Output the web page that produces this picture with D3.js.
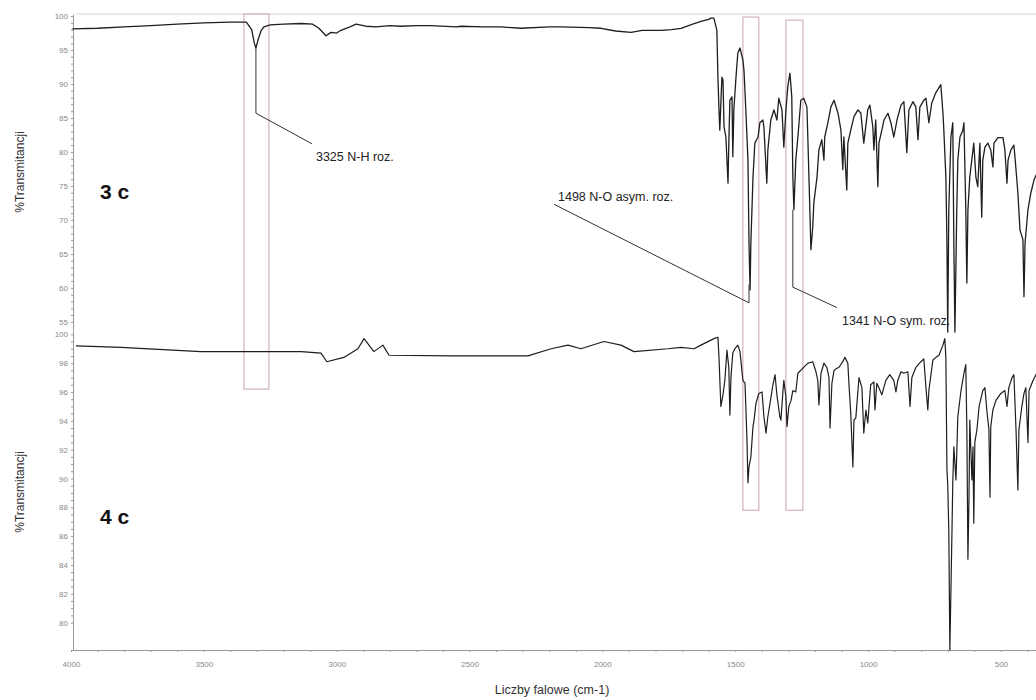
<!DOCTYPE html>
<html>
<head>
<meta charset="utf-8">
<script src="https://cdn.jsdelivr.net/npm/d3@7"></script>
<style>
  body { margin: 0; background: #fff; }
  svg { display: block; font-family: "Liberation Sans", Arial, sans-serif; }
  .tick text { fill: #888; font-size: 8px; }
  .axis path, .axis line { stroke: #999; }
</style>
</head>
<body>
<svg id="chart"></svg>
<script>
// IR spectra: [wavenumber cm-1, %T]
const spectrum3c = [
  [3995, 98.1], [3900, 98.2], [3800, 98.4], [3700, 98.6], [3600, 98.8], [3500, 99.0], [3400, 99.1],
  [3340, 99.1], [3320, 98.0], [3310, 96.0], [3304, 95.3], [3296, 96.5], [3285, 97.8], [3274, 98.4],
  [3250, 98.7], [3200, 98.8], [3134, 98.9], [3090, 98.8], [3067, 98.2], [3040, 97.1], [3021, 97.6],
  [3000, 97.5], [2984, 97.9], [2950, 98.4], [2927, 98.8], [2890, 98.5], [2852, 98.4], [2800, 98.6],
  [2758, 98.5], [2700, 98.6], [2645, 98.6], [2550, 98.4], [2532, 98.5], [2450, 98.4], [2382, 98.4],
  [2306, 98.2], [2200, 98.4], [2156, 98.4], [2050, 98.3], [2005, 98.2], [1950, 97.8], [1892, 97.6],
  [1850, 97.9], [1779, 97.9], [1740, 98.0], [1704, 98.2], [1660, 98.8], [1629, 99.2], [1600, 99.5],
  [1591, 99.7], [1580, 99.7], [1569, 97.9], [1565, 91.0], [1561, 86.2], [1558, 83.2], [1550, 91.0],
  [1546, 90.6], [1542, 83.7], [1535, 82.2], [1527, 75.4], [1524, 81.3], [1520, 87.6], [1512, 88.1],
  [1509, 79.3], [1505, 86.2], [1497, 91.0], [1490, 94.6], [1482, 95.3], [1471, 93.5], [1467, 92.1],
  [1460, 86.2], [1452, 78.8], [1448, 66.6], [1444, 59.7], [1441, 66.6], [1433, 76.3], [1426, 81.3],
  [1414, 82.2], [1407, 84.3], [1396, 84.7], [1392, 83.7], [1381, 75.4], [1377, 80.3], [1366, 84.7],
  [1354, 86.2], [1343, 84.7], [1336, 87.9], [1324, 86.2], [1317, 80.7], [1309, 86.2], [1302, 89.6],
  [1294, 91.6], [1287, 88.1], [1283, 76.3], [1279, 71.5], [1272, 78.8], [1264, 82.2], [1253, 87.6],
  [1242, 87.9], [1230, 86.6], [1226, 81.3], [1219, 71.5], [1215, 65.6], [1208, 69.0], [1204, 72.5],
  [1192, 76.3], [1185, 80.3], [1174, 81.8], [1166, 78.8], [1163, 82.2], [1151, 84.3], [1140, 86.6],
  [1128, 87.6], [1113, 85.7], [1102, 83.2], [1095, 77.4], [1091, 82.2], [1080, 74.4], [1076, 81.3],
  [1065, 83.2], [1053, 85.2], [1038, 86.2], [1027, 85.7], [1016, 81.3], [1001, 86.2], [993, 86.9],
  [982, 83.7], [978, 80.3], [971, 84.7], [963, 74.9], [959, 81.3], [948, 83.2], [940, 84.7],
  [925, 85.7], [914, 84.3], [903, 82.2], [891, 84.7], [876, 86.9], [865, 87.4], [854, 79.9],
  [846, 86.2], [831, 87.4], [820, 86.6], [812, 81.8], [805, 86.6], [790, 87.6], [782, 87.9],
  [771, 84.3], [760, 87.2], [745, 88.7], [726, 89.9], [718, 85.7], [715, 83.5], [707, 76.3],
  [703, 66.6], [700, 53.5], [696, 71.5], [688, 82.2], [681, 84.3], [677, 66.6], [673, 53.5],
  [666, 71.5], [662, 78.8], [654, 82.2], [643, 83.2], [639, 84.3], [632, 71.5], [628, 60.7],
  [624, 71.5], [617, 76.3], [605, 80.3], [602, 81.3], [594, 76.3], [587, 74.9], [579, 81.3],
  [572, 70.4], [568, 78.8], [560, 80.7], [549, 81.3], [538, 80.3], [530, 77.8], [526, 81.3],
  [511, 82.1], [492, 82.1], [485, 80.3], [477, 75.4], [473, 78.8], [462, 80.3], [451, 81.0],
  [447, 79.3], [436, 74.0], [428, 68.5], [417, 67.1], [413, 58.7], [409, 66.6], [398, 71.5],
  [387, 74.0], [375, 75.9], [364, 76.9]
];

const spectrum4c = [
  [3981, 99.2], [3812, 99.1], [3511, 98.8], [3360, 98.8], [3134, 98.8], [3059, 98.7], [3037, 98.1],
  [2973, 98.4], [2920, 99.0], [2897, 99.7], [2860, 98.8], [2826, 99.25], [2803, 98.55], [2570, 98.5],
  [2280, 98.5], [2193, 99.0], [2129, 99.25], [2081, 99.0], [1994, 99.5], [1930, 99.25], [1881, 98.8],
  [1753, 99.0], [1704, 99.1], [1655, 99.0], [1629, 99.25], [1580, 99.7], [1565, 99.8], [1561, 98.4],
  [1554, 95.0], [1546, 95.8], [1539, 96.8], [1531, 98.9], [1524, 97.7], [1520, 94.4], [1516, 97.0],
  [1509, 98.7], [1501, 99.0], [1490, 99.25], [1482, 98.8], [1471, 96.8], [1463, 96.6], [1456, 92.9],
  [1452, 89.7], [1448, 90.8], [1441, 91.5], [1433, 93.6], [1429, 94.05], [1422, 95.2], [1411, 95.9],
  [1399, 96.0], [1392, 94.3], [1384, 93.15], [1377, 94.3], [1369, 95.2], [1358, 96.5], [1350, 97.2],
  [1343, 95.8], [1332, 94.3], [1328, 94.05], [1320, 96.1], [1317, 96.8], [1309, 95.65], [1305, 93.6],
  [1298, 95.0], [1290, 95.4], [1283, 96.1], [1272, 96.0], [1264, 97.3], [1245, 97.65], [1226, 98.0],
  [1208, 98.1], [1196, 97.4], [1189, 96.8], [1185, 95.1], [1177, 97.3], [1166, 98.0], [1155, 97.7],
  [1147, 97.0], [1143, 93.5], [1136, 96.6], [1128, 97.5], [1117, 97.65], [1110, 97.7], [1095, 98.1],
  [1087, 98.4], [1076, 98.0], [1072, 96.6], [1065, 94.5], [1057, 90.8], [1053, 94.05], [1046, 94.2],
  [1034, 97.0], [1023, 96.3], [1016, 93.15], [1008, 94.75], [1001, 93.85], [990, 96.5], [978, 96.7],
  [974, 94.75], [967, 96.6], [959, 96.3], [948, 95.8], [933, 96.8], [918, 97.2], [903, 96.8],
  [895, 96.0], [888, 96.8], [876, 97.4], [865, 97.3], [850, 97.4], [842, 95.0], [835, 97.0],
  [820, 97.7], [801, 98.1], [790, 98.3], [782, 96.3], [775, 94.75], [771, 96.1], [756, 98.2],
  [745, 98.4], [733, 98.55], [718, 99.25], [711, 99.7], [707, 98.4], [703, 90.6], [700, 89.55],
  [696, 86.4], [692, 78.1], [684, 86.4], [681, 89.7], [677, 92.2], [669, 89.9], [662, 94.3],
  [650, 96.1], [639, 97.3], [632, 97.9], [628, 93.4], [624, 84.4], [620, 88.7], [617, 94.05],
  [609, 89.9], [605, 92.2], [602, 86.9], [598, 92.5], [590, 93.4], [582, 95.0], [568, 96.1],
  [560, 96.3], [553, 94.75], [545, 93.4], [541, 88.7], [538, 93.6], [530, 94.75], [519, 95.4],
  [500, 95.9], [485, 96.1], [477, 95.0], [470, 96.3], [458, 97.0], [451, 97.2], [443, 93.4],
  [436, 89.2], [432, 93.4], [421, 95.0], [413, 95.9], [406, 96.3], [398, 92.5], [394, 96.1],
  [379, 96.8], [368, 97.2], [364, 97.3]
];

// Tick values
const xTicks = d3.range(4000, 399, -100);
const xLabels = [4000, 3500, 3000, 2500, 2000, 1500, 1000, 500];
const yTicksTop = d3.range(55, 101, 1);
const yTicksBottom = d3.range(80, 100.1, 0.5);

// Peak labels: text position, leader line points (top panel units)
const peakLabels = [
  { text: '3325 N-H roz.', at: [3078, 78.6], path: [[3304, 95.3], [3304, 85.7], [3093, 81.2]] },
  { text: '1498 N-O asym. roz.', at: [2167, 72.8], path: [[2182, 72.3], [1448, 57.8], [1448, 60.5]] },
  { text: '1341 N-O sym. roz.', at: [1098, 54.5], path: [[1283, 71.5], [1283, 60.1], [1117, 57.1]] }
];

// Highlight boxes: wavenumber range, top (top panel %T), bottom (bottom panel %T)
const boxes = [
  { from: 3349, to: 3255, top: 100.3, bottom: 96.2 },
  { from: 1471, to: 1411, top: 99.85, bottom: 87.8 },
  { from: 1309, to: 1245, top: 99.4, bottom: 87.8 }
];

const width = 1036;
const height = 700;

const svg = d3.select('#chart')
    .attr('width', width)
    .attr('height', height);

const x = d3.scaleLinear().domain([4000, 364]).range([71, 1037]);
const yTop = d3.scaleLinear().domain([100.3, 53.8]).range([14, 330]);
const yBottom = d3.scaleLinear().domain([100.3, 78.1]).range([330, 650]);

// faint frame line at the top
svg.append('line')
    .attr('x1', 77).attr('x2', width)
    .attr('y1', 14).attr('y2', 14)
    .attr('stroke', '#d4d4d4');

// highlight boxes behind the traces
svg.selectAll('.box')
    .data(boxes)
    .enter()
    .append('rect')
    .attr('class', 'box')
    .attr('x', d => x(d.from))
    .attr('y', d => yTop(d.top))
    .attr('width', d => x(d.to) - x(d.from))
    .attr('height', d => yBottom(d.bottom) - yTop(d.top))
    .attr('fill', 'none')
    .attr('stroke', '#c9a3ab')
    .attr('stroke-width', 1);

// axes
svg.append('g')
    .attr('class', 'axis')
    .attr('transform', 'translate(0,650)')
    .call(d3.axisBottom(x)
        .tickValues(xTicks)
        .tickSize(2)
        .tickSizeOuter(0)
        .tickPadding(9)
        .tickFormat(d => xLabels.includes(d) ? d : ''));

svg.append('g')
    .attr('class', 'axis')
    .attr('transform', 'translate(73,0)')
    .call(d3.axisLeft(yTop)
        .tickValues(yTicksTop)
        .tickSize(2)
        .tickSizeOuter(0)
        .tickPadding(3)
        .tickFormat(d => d % 5 === 0 ? d : ''));

svg.append('g')
    .attr('class', 'axis')
    .attr('transform', 'translate(73,0)')
    .call(d3.axisLeft(yBottom)
        .tickValues(yTicksBottom)
        .tickSize(2)
        .tickSizeOuter(0)
        .tickPadding(3)
        .tickFormat(d => d % 2 === 0 ? d : ''));

svg.selectAll('.axis .tick line').attr('stroke', '#555');

// spectra
const lineTop = d3.line().x(d => x(d[0])).y(d => yTop(d[1]));
const lineBottom = d3.line().x(d => x(d[0])).y(d => yBottom(d[1]));

svg.append('path')
    .datum(spectrum3c)
    .attr('d', lineTop)
    .attr('fill', 'none')
    .attr('stroke', '#1e1e1e')
    .attr('stroke-width', 1.3)
    .attr('stroke-linejoin', 'round');

svg.append('path')
    .datum(spectrum4c)
    .attr('d', lineBottom)
    .attr('fill', 'none')
    .attr('stroke', '#1e1e1e')
    .attr('stroke-width', 1.2)
    .attr('stroke-linejoin', 'round');

// peak labels with leader lines
const leader = d3.line().x(d => x(d[0])).y(d => yTop(d[1]));
svg.selectAll('.leader')
    .data(peakLabels)
    .enter()
    .append('path')
    .attr('class', 'leader')
    .attr('d', d => leader(d.path))
    .attr('fill', 'none')
    .attr('stroke', '#333')
    .attr('stroke-width', 1);

svg.selectAll('.peak-label')
    .data(peakLabels)
    .enter()
    .append('text')
    .attr('class', 'peak-label')
    .attr('x', d => x(d.at[0]))
    .attr('y', d => yTop(d.at[1]))
    .attr('font-size', 12.5)
    .attr('fill', '#222')
    .text(d => d.text);

// sample names
svg.append('text')
    .attr('x', 100).attr('y', 199)
    .attr('font-size', 21).attr('font-weight', 'bold').attr('fill', '#111')
    .text('3 c');

svg.append('text')
    .attr('x', 100).attr('y', 524)
    .attr('font-size', 21).attr('font-weight', 'bold').attr('fill', '#111')
    .text('4 c');

// axis titles
svg.append('text')
    .attr('transform', 'translate(24,172) rotate(-90)')
    .attr('text-anchor', 'middle')
    .attr('font-size', 12)
    .attr('fill', '#333')
    .text('%Transmitancji');

svg.append('text')
    .attr('transform', 'translate(24,492) rotate(-90)')
    .attr('text-anchor', 'middle')
    .attr('font-size', 12)
    .attr('fill', '#333')
    .text('%Transmitancji');

svg.append('text')
    .attr('x', 552).attr('y', 694)
    .attr('text-anchor', 'middle')
    .attr('font-size', 12.5)
    .attr('fill', '#333')
    .text('Liczby falowe (cm-1)');
</script>
</body>
</html>
